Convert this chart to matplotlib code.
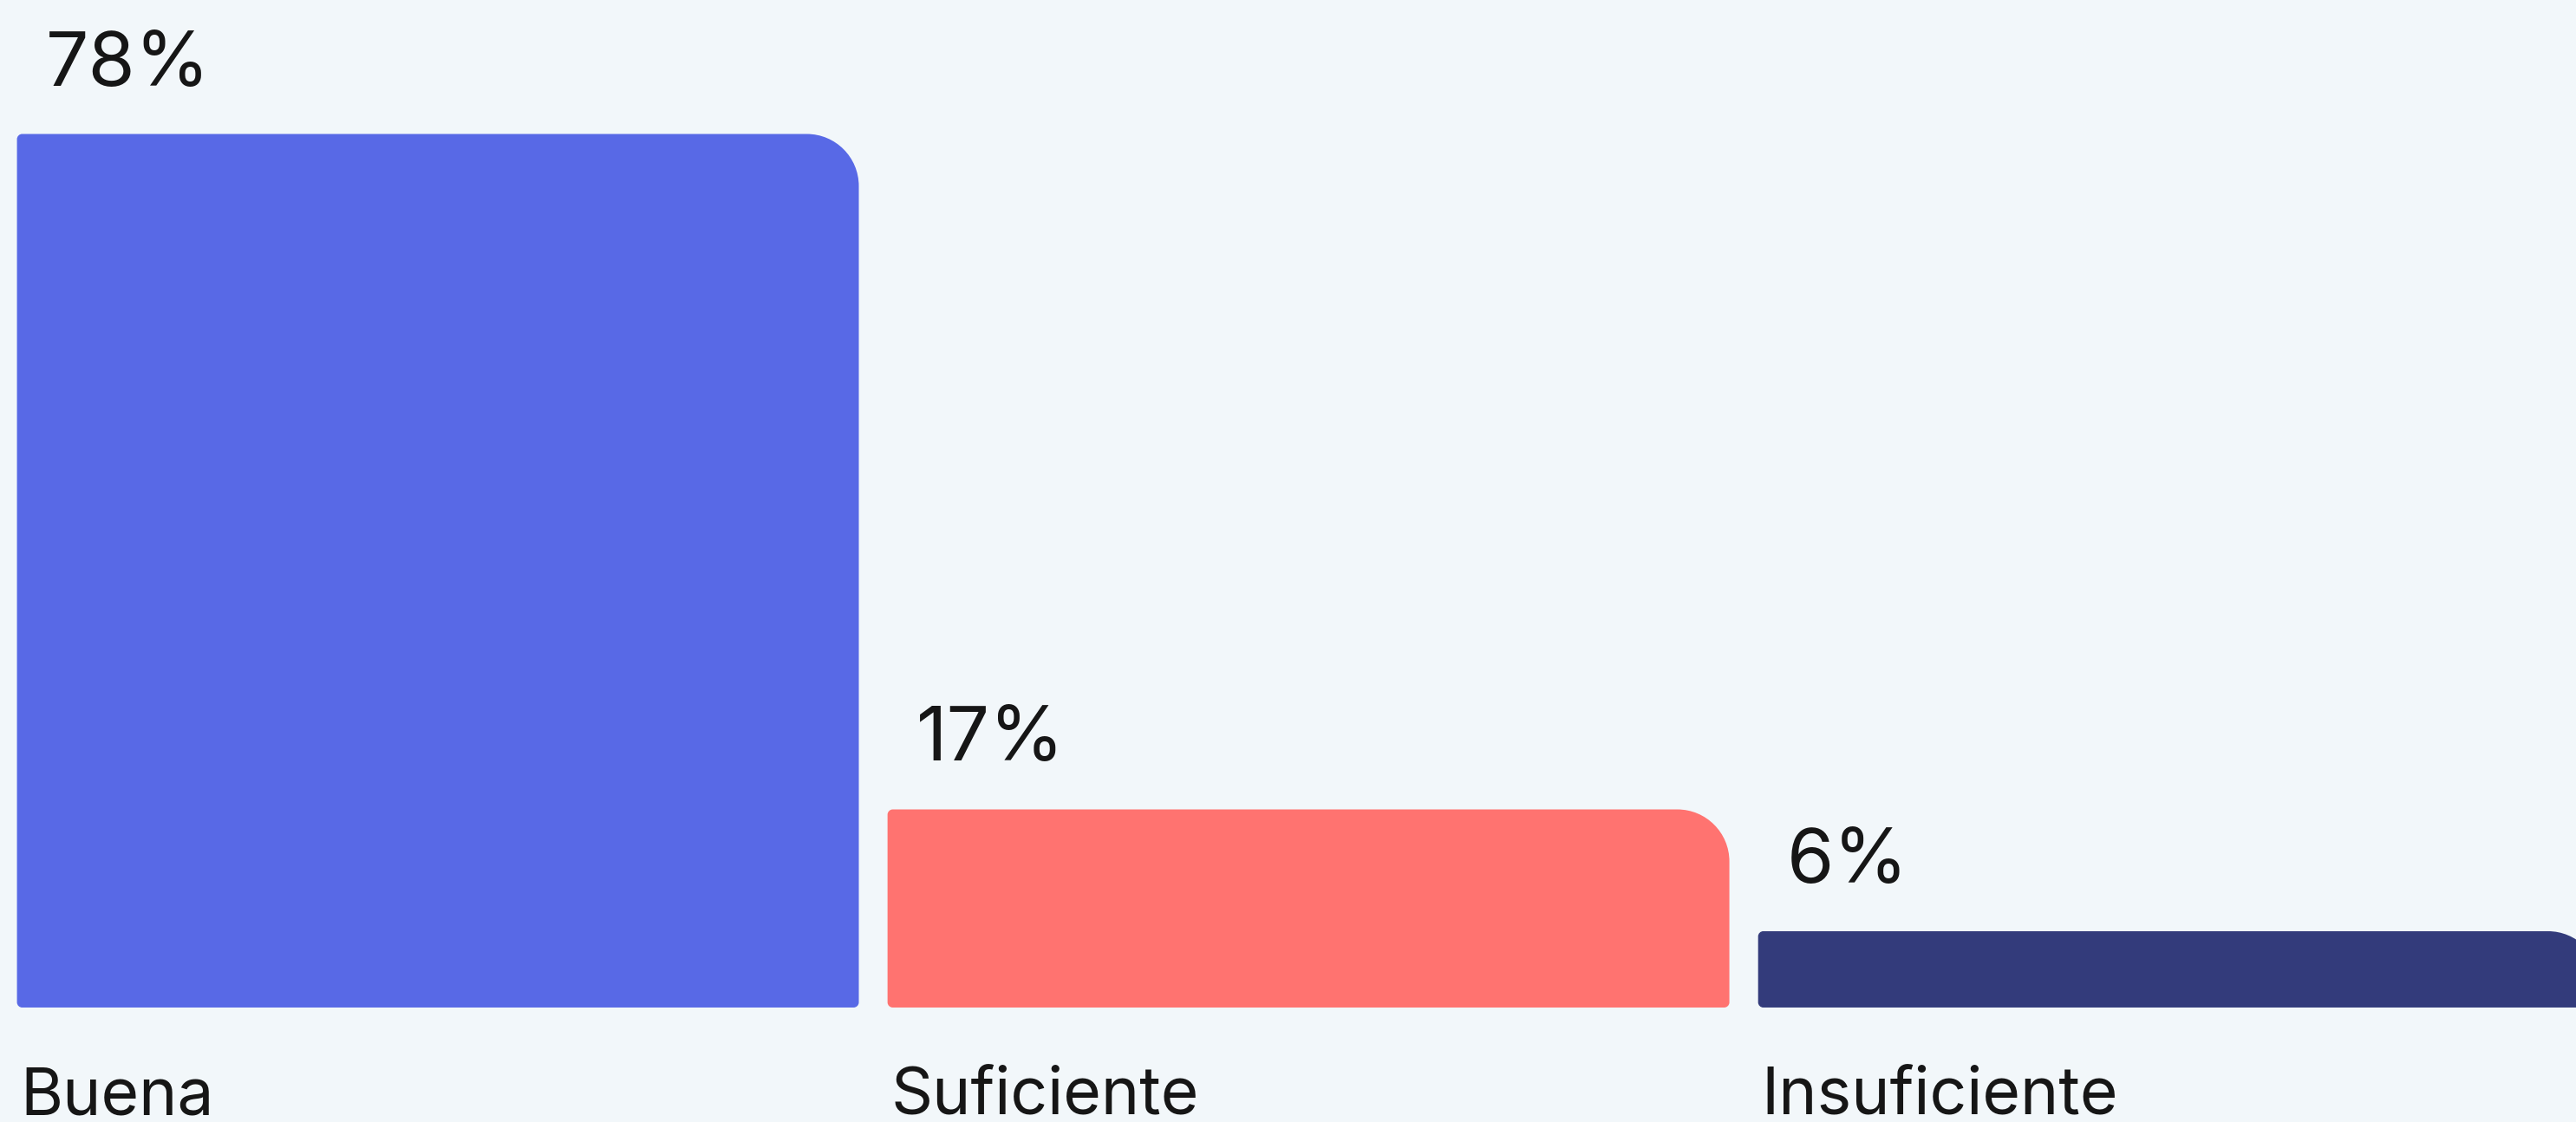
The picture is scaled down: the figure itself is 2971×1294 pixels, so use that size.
import matplotlib
matplotlib.use("Agg")
import matplotlib.pyplot as plt
from matplotlib.path import Path
from matplotlib.patches import PathPatch
import matplotlib.transforms as mtransforms

# ---- data ----
categories = ["Buena", "Suficiente", "Insuficiente"]
values = [78, 17, 6]
value_labels = ["78%", "17%", "6%"]
colors = ["#5869E6", "#FF7370", "#333B7B"]

# ---- style ----
BG = "#F2F7FA"
TEXT = "#161616"
W_PX, H_PX, DPI = 2971, 1294, 100
BAR_WIDTH = 0.967
BASE = -0.89
XLIM = (-0.503, 2.456)
YLIM = (-11.23, 90.1)
R_BIG = 60   # px
R_SMALL = 6  # px

plt.rcParams["font.family"] = ["Inter", "DejaVu Sans"]

fig = plt.figure(figsize=(W_PX / DPI, H_PX / DPI), dpi=DPI, facecolor=BG)
ax = fig.add_axes([0, 0, 1, 1])
ax.set_facecolor(BG)
ax.set_xlim(*XLIM)
ax.set_ylim(*YLIM)
ax.axis("off")

px_x = W_PX / (XLIM[1] - XLIM[0])
px_y = H_PX / (YLIM[1] - YLIM[0])
K = 0.5523


def rounded_bar(x0, y0, w, h, rbl, rbr, rtr, rtl):
    def rx(r):
        return r / px_x

    def ry(r):
        return r / px_y

    x1, y1 = x0 + w, y0 + h
    verts, codes = [], []
    verts.append((x0 + rx(rbl), y0)); codes.append(Path.MOVETO)
    verts.append((x1 - rx(rbr), y0)); codes.append(Path.LINETO)
    verts += [(x1 - rx(rbr) + K * rx(rbr), y0), (x1, y0 + ry(rbr) - K * ry(rbr)), (x1, y0 + ry(rbr))]
    codes += [Path.CURVE4] * 3
    verts.append((x1, y1 - ry(rtr))); codes.append(Path.LINETO)
    verts += [(x1, y1 - ry(rtr) + K * ry(rtr)), (x1 - rx(rtr) + K * rx(rtr), y1), (x1 - rx(rtr), y1)]
    codes += [Path.CURVE4] * 3
    verts.append((x0 + rx(rtl), y1)); codes.append(Path.LINETO)
    verts += [(x0 + rx(rtl) - K * rx(rtl), y1), (x0, y1 - ry(rtl) + K * ry(rtl)), (x0, y1 - ry(rtl))]
    codes += [Path.CURVE4] * 3
    verts.append((x0, y0 + ry(rbl))); codes.append(Path.LINETO)
    verts += [(x0, y0 + ry(rbl) - K * ry(rbl)), (x0 + rx(rbl) - K * rx(rbl), y0), (x0 + rx(rbl), y0)]
    codes += [Path.CURVE4] * 3
    verts.append((x0 + rx(rbl), y0)); codes.append(Path.CLOSEPOLY)
    return Path(verts, codes)


trans_xaxes = mtransforms.blended_transform_factory(ax.transData, ax.transAxes)

for i, (cat, v, lab, c) in enumerate(zip(categories, values, value_labels, colors)):
    x0 = i - BAR_WIDTH / 2
    h = v - BASE
    path = rounded_bar(x0, BASE, BAR_WIDTH, h, R_SMALL, R_SMALL, R_BIG, R_SMALL)
    ax.add_patch(PathPatch(path, facecolor=c, edgecolor="none", clip_on=True))
    ax.annotate(lab, xy=(x0, v), xytext=(33, 56), textcoords="offset pixels",
                ha="left", va="baseline", fontsize=63, color=TEXT)
    ax.annotate(cat, xy=(x0, 0), xycoords=trans_xaxes, xytext=(4, 9),
                textcoords="offset pixels", ha="left", va="baseline",
                fontsize=54, color=TEXT)

fig.savefig("out.png", dpi=DPI, facecolor=BG)
